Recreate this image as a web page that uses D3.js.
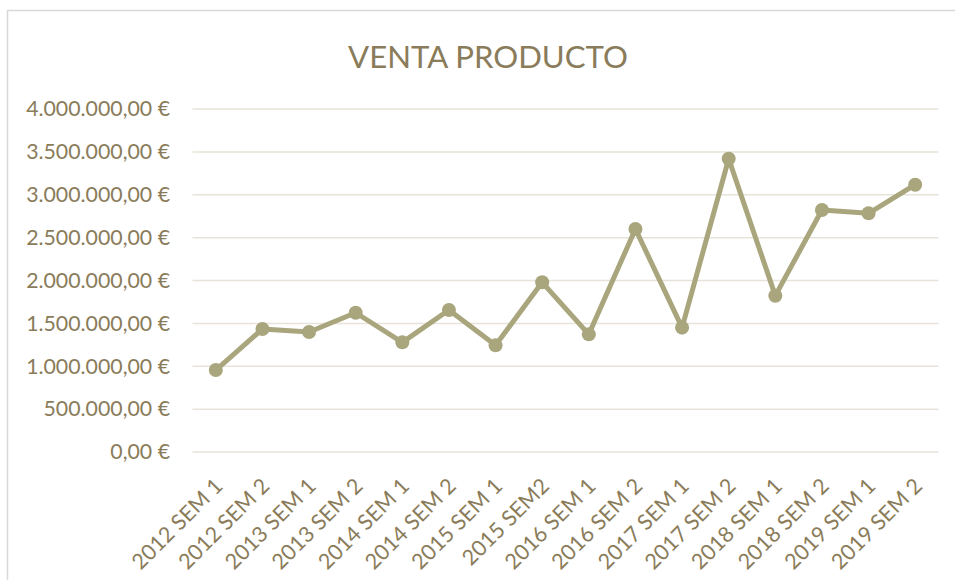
<!DOCTYPE html>
<html><head><meta charset="utf-8">
<script src="https://cdn.jsdelivr.net/npm/d3@7"></script>
<style>body{margin:0;background:#fff}svg{display:block}</style>
</head><body>
<script>
const categories = ["2012 SEM 1","2012 SEM 2","2013 SEM 1","2013 SEM 2","2014 SEM 1","2014 SEM 2","2015 SEM 1","2015 SEM2","2016 SEM 1","2016 SEM 2","2017 SEM 1","2017 SEM 2","2018 SEM 1","2018 SEM 2","2019 SEM 1","2019 SEM 2"];
const ventas = [956000,1434000,1399000,1624000,1279000,1656000,1244000,1979000,1372000,2601000,1450000,3420000,1823000,2822000,2784000,3117000];
const yTicks = [0,500000,1000000,1500000,2000000,2500000,3000000,3500000,4000000];
const title = "VENTA PRODUCTO";

const W = 955, H = 580;
const textColor = "#8a7c5a", lineColor = "#a9a57c", gridColor = "#e7e3d9";
const font = "Lato, 'Open Sans', sans-serif";

const svg = d3.select("body").append("svg").attr("width", W).attr("height", H);
svg.append("rect").attr("x",7.5).attr("y",10.5).attr("width",W+10).attr("height",H+10)
  .attr("fill","#fff").attr("stroke","#d9d9d9").attr("stroke-width",1.5);

const x = d3.scaleBand().domain(categories).range([192.5, 938.5]);
const y = d3.scaleLinear().domain([0, 4000000]).range([452, 109]);

const fmt = v => {
  const s = d3.format(",.2f")(v);
  return s.replace(/,/g,"#").replace(".",",").replace(/#/g,".") + " €";
};

// gridlines
svg.append("g").selectAll("line").data(yTicks).join("line")
  .attr("x1",192.5).attr("x2",938.5)
  .attr("y1",d=>y(d)).attr("y2",d=>y(d))
  .attr("stroke",gridColor).attr("stroke-width",1.5);

// y axis labels
const yAxis = d3.axisLeft(y).tickValues(yTicks).tickFormat(fmt).tickSize(0).tickPadding(0);
const gy = svg.append("g").attr("transform","translate(170,0)").call(yAxis);
gy.select(".domain").remove();
gy.selectAll("text").attr("fill",textColor).style("font-family",font).style("font-size","19px");
{
  const t = gy.selectAll("text").filter(d=>d===4000000).node();
  const w = t.getComputedTextLength();
  gy.selectAll("text").style("font-size", (19 * 144 / w)+"px");
}

// x axis labels
const xAxis = d3.axisBottom(x).tickSize(0).tickPadding(0);
const gx = svg.append("g").attr("transform","translate(0,462)").call(xAxis);
gx.select(".domain").remove();
gx.selectAll("text")
  .attr("fill",textColor).style("font-family",font).style("font-size","20px")
  .attr("text-anchor","end").attr("dy","0.35em")
  .attr("transform","translate(3,20) rotate(-45)");
{
  const t = gx.selectAll("text").filter(d=>d===categories[0]).node();
  const w = t.getComputedTextLength();
  gx.selectAll("text").style("font-size", (20 * 118 / w)+"px");
}

// line
const line = d3.line().x((d,i)=>x(categories[i])+x.bandwidth()/2).y(d=>y(d));
svg.append("path").datum(ventas).attr("d",line).attr("fill","none")
  .attr("stroke",lineColor).attr("stroke-width",5).attr("stroke-linejoin","round");
svg.append("g").selectAll("circle").data(ventas).join("circle")
  .attr("cx",(d,i)=>x(categories[i])+x.bandwidth()/2).attr("cy",d=>y(d)).attr("r",7)
  .attr("fill",lineColor);

// title
const tt = svg.append("text").attr("x",488).attr("y",68).attr("text-anchor","middle")
  .attr("fill",textColor).style("font-family",font).style("font-size","30px").text(title);
{
  const w = tt.node().getComputedTextLength();
  tt.style("font-size", (30*280/w)+"px");
}
</script>
</body></html>
